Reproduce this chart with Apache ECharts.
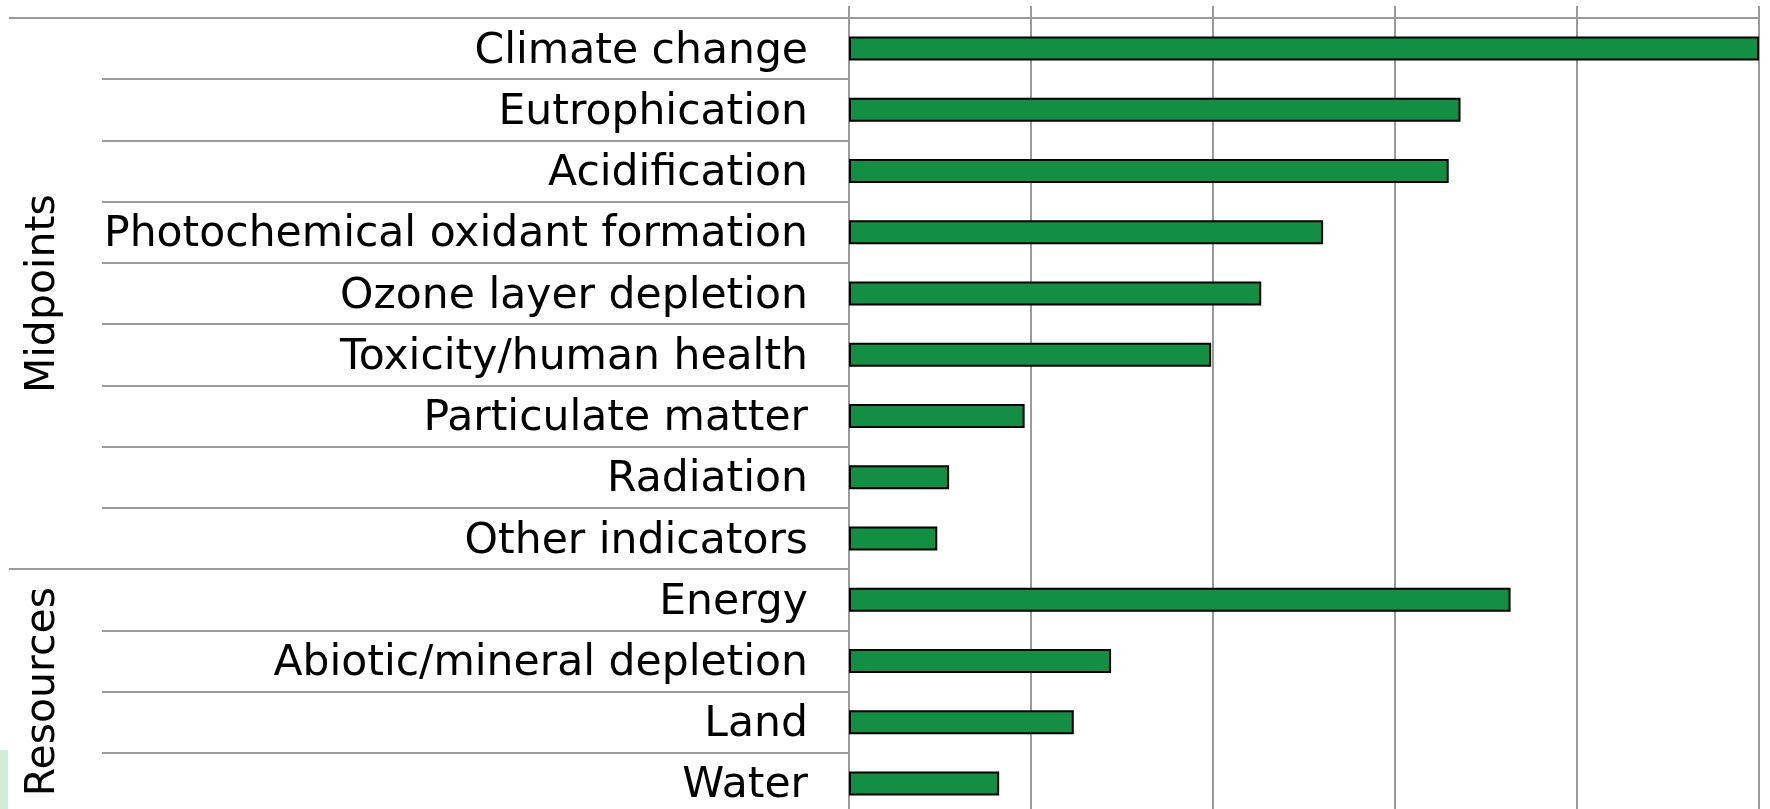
<!DOCTYPE html>
<html>
<head>
<meta charset="utf-8">
<script src="https://cdn.jsdelivr.net/npm/echarts@6/dist/echarts.min.js"></script>
<style>
  html, body { margin: 0; padding: 0; background: #fff; overflow: hidden; }
  #chart { width: 1770px; height: 816px; }
</style>
</head>
<body>
<div id="chart"></div>
<script>
const categories = [
  'Climate change', 'Eutrophication', 'Acidification', 'Photochemical oxidant formation',
  'Ozone layer depletion', 'Toxicity/human health', 'Particulate matter', 'Radiation',
  'Other indicators', 'Energy', 'Abiotic/mineral depletion', 'Land', 'Water'
]
const values = [100, 67.2, 65.9, 52.1, 45.3, 39.8, 19.3, 11.0, 9.7, 72.7, 28.8, 24.7, 16.5]
const groupNames = ['Midpoints', 'Resources']
const groupBounds = [0, 9, 13]

const FONT = '"DejaVu Sans", Verdana, sans-serif'
const GRID = '#9a9a9a'

const groupMids = groupNames.map((_, i) => (groupBounds[i] + groupBounds[i + 1]) / 2)

// the chart is a little taller than the window: the last row is cut off, as in the source
const chart = echarts.init(document.getElementById('chart'))
chart.setOption({
  animation: false,
  grid: { left: 849, right: 11, top: 18, height: 796, containLabel: false },
  xAxis: {
    type: 'value',
    position: 'top',
    min: 0,
    max: 100,
    interval: 20,
    axisLine: { show: true, lineStyle: { color: GRID, width: 2 } },
    axisTick: { show: true, length: 12, lineStyle: { color: GRID, width: 2 } },
    axisLabel: { show: false },
    splitLine: { show: true, lineStyle: { color: GRID, width: 2 } }
  },
  yAxis: [
    {
      type: 'category',
      inverse: true,
      data: categories,
      axisLine: { show: true, lineStyle: { color: GRID, width: 2 } },
      axisTick: { show: true, interval: 0, length: 747, lineStyle: { color: GRID, width: 2 } },
      axisLabel: {
        interval: 0,
        margin: 41,
        fontSize: 42.5,
        fontFamily: FONT,
        color: '#000',
        verticalAlign: 'top',
        lineHeight: 6
      },
      splitLine: { show: false }
    },
    {
      type: 'value',
      position: 'left',
      inverse: true,
      min: groupBounds[0],
      max: groupBounds[groupBounds.length - 1],
      axisLine: { show: false },
      axisTick: {
        show: true,
        customValues: groupBounds,
        length: 840,
        lineStyle: { color: GRID, width: 2 }
      },
      axisLabel: {
        show: true,
        customValues: groupMids,
        rotate: 90,
        margin: 785,
        fontSize: 41,
        fontFamily: FONT,
        color: '#000',
        formatter: (v) => groupNames[groupMids.indexOf(v)] || ''
      },
      splitLine: { show: false }
    }
  ],
  graphic: [
    { type: 'rect', left: 0, top: 750, shape: { width: 8, height: 66 }, style: { fill: '#d2ebd9' } }
  ],
  series: [
    {
      type: 'bar',
      yAxisIndex: 0,
      data: values,
      barWidth: 24,
      itemStyle: { color: '#128f42', borderColor: '#000', borderWidth: 2 }
    }
  ]
})
</script>
</body>
</html>
